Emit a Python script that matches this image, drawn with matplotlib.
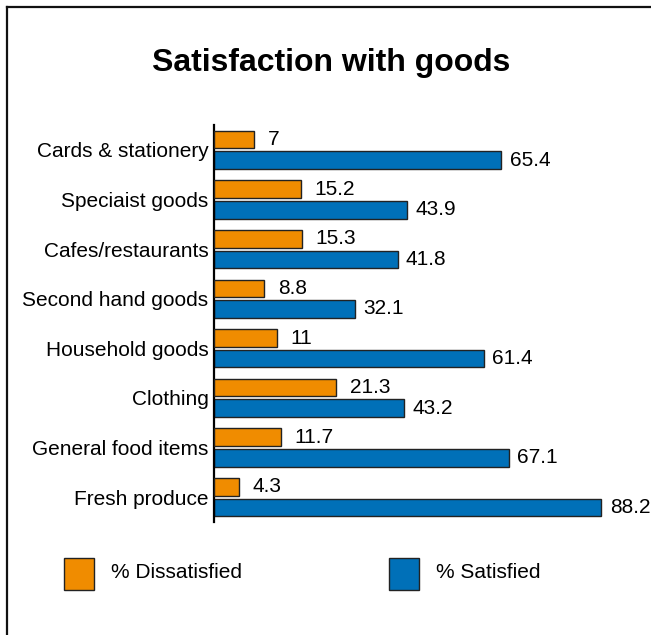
import numpy as np
import matplotlib.pyplot as plt
from matplotlib.lines import Line2D
from matplotlib.patches import Rectangle

plt.rcParams['font.family'] = ['Liberation Sans', 'DejaVu Sans']

categories = ["Cards & stationery", "Speciaist goods", "Cafes/restaurants",
              "Second hand goods", "Household goods", "Clothing",
              "General food items", "Fresh produce"]
dissatisfied = [7, 15.2, 15.3, 8.8, 11, 21.3, 11.7, 4.3]
satisfied = [65.4, 43.9, 41.8, 32.1, 61.4, 43.2, 67.1, 88.2]

ORANGE = "#F08C00"
BLUE = "#0070B8"
EDGE = "#222222"

W, H = 651, 635
fig = plt.figure(figsize=(W / 100, H / 100), dpi=100)
fig.patch.set_facecolor("white")

# frame lines along top and left edge
fig.add_artist(Line2D([7 / W, 7 / W], [0, 1 - 7 / H], color="#111111", lw=1.6))
fig.add_artist(Line2D([7 / W, 1], [1 - 7 / H, 1 - 7 / H], color="#111111", lw=1.6))

fig.text(331 / W, 1 - 63 / H, "Satisfaction with goods", ha="center", va="center",
         fontsize=23, fontweight="bold")

ax = fig.add_axes([214 / W, 113 / H, 404 / W, 397 / H])
y = np.arange(len(categories))
bh = 0.355
off = 0.207

ax.barh(y + off, satisfied, height=bh, color=BLUE, edgecolor=EDGE, linewidth=1)
ax.set_xlim(0, 92)
ax.set_ylim(len(categories) - 0.5, -0.5)

# dissatisfied bars sit on their own (hidden) scale
ax2 = ax.twiny()
ax2.barh(y - off, dissatisfied, height=bh, color=ORANGE, edgecolor=EDGE, linewidth=1)
ax2.set_xlim(0, 70.6)
ax2.set_ylim(len(categories) - 0.5, -0.5)

for a in (ax, ax2):
    for s in ("top", "right", "bottom"):
        a.spines[s].set_visible(False)
    a.set_xticks([])
ax2.spines["left"].set_visible(False)
ax.spines["left"].set_linewidth(1.6)
ax.spines["left"].set_color("black")

ax.set_yticks(y)
ax.set_yticklabels(categories, fontsize=15)
ax.tick_params(axis="y", length=0, pad=4)

for i, v in enumerate(satisfied):
    ax.annotate(f"{v:g}", (v, i + off), xytext=(6, 0), textcoords="offset points",
                ha="left", va="center", fontsize=15)
for i, v in enumerate(dissatisfied):
    ax2.annotate(f"{v:g}", (v, i - off), xytext=(10, 0), textcoords="offset points",
                 ha="left", va="center", fontsize=15)

# legend
for x0, col, label in [(64, ORANGE, "% Dissatisfied"), (389, BLUE, "% Satisfied")]:
    fig.add_artist(Rectangle((x0 / W, 1 - 590 / H), 30 / W, 32 / H,
                             facecolor=col, edgecolor=EDGE, lw=1,
                             transform=fig.transFigure))
    fig.text((x0 + 47) / W, 1 - 573 / H, label, ha="left", va="center", fontsize=15)

fig.savefig("out.png", dpi=100)
